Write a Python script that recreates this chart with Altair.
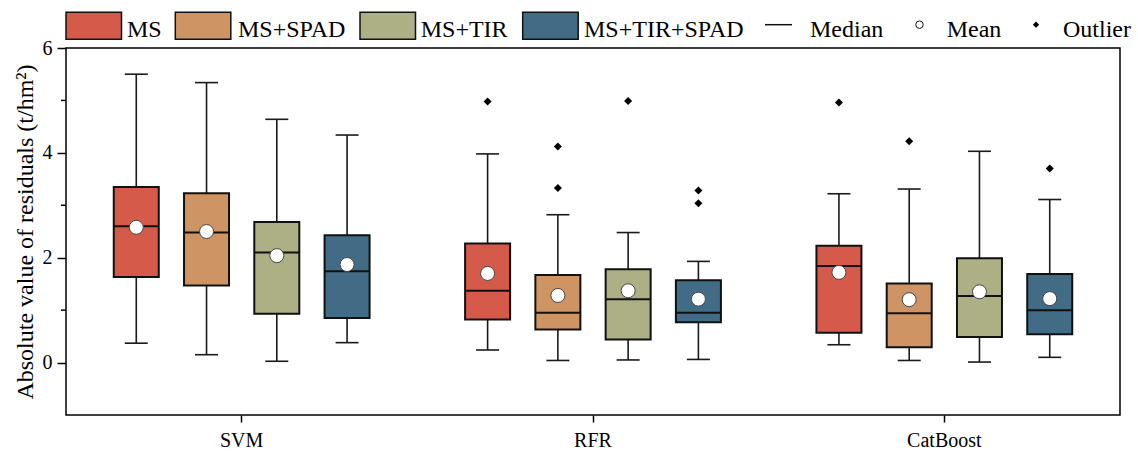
import altair as alt
import pandas as pd

# ---------------- data ----------------
groups = ["SVM", "RFR", "CatBoost"]
configs = ["MS", "MS+SPAD", "MS+TIR", "MS+TIR+SPAD"]
colors = ["#D65A4A", "#CE9464", "#ADAF84", "#426C85"]

whisker_low = {
    "SVM": [0.37, 0.15, 0.025, 0.38],
    "RFR": [0.24, 0.04, 0.05, 0.06],
    "CatBoost": [0.34, 0.04, 0.01, 0.10],
}
q1 = {
    "SVM": [1.63, 1.47, 0.93, 0.85],
    "RFR": [0.82, 0.63, 0.44, 0.77],
    "CatBoost": [0.57, 0.29, 0.49, 0.54],
}
median = {
    "SVM": [2.60, 2.48, 2.10, 1.74],
    "RFR": [1.37, 0.95, 1.21, 0.95],
    "CatBoost": [1.84, 0.94, 1.27, 1.00],
}
q3 = {
    "SVM": [3.35, 3.23, 2.68, 2.43],
    "RFR": [2.27, 1.67, 1.78, 1.57],
    "CatBoost": [2.23, 1.51, 1.99, 1.69],
}
whisker_high = {
    "SVM": [5.50, 5.34, 4.64, 4.34],
    "RFR": [3.98, 2.82, 2.48, 1.93],
    "CatBoost": [3.22, 3.31, 4.03, 3.11],
}
mean = {
    "SVM": [2.58, 2.50, 2.04, 1.87],
    "RFR": [1.70, 1.28, 1.37, 1.21],
    "CatBoost": [1.72, 1.20, 1.35, 1.22],
}
outliers = {
    "SVM": [[], [], [], []],
    "RFR": [[4.98], [4.12, 3.33], [4.99], [3.28, 3.04]],
    "CatBoost": [[4.96], [4.22], [], [3.70]],
}
minor_ticks = [1, 3, 5]

# ---------------- tables ----------------
rows = []
out_rows = []
for g in groups:
    for i, c in enumerate(configs):
        rows.append(dict(group=g, config=c, wl=whisker_low[g][i], q1=q1[g][i],
                         med=median[g][i], q3=q3[g][i], wh=whisker_high[g][i],
                         mean=mean[g][i]))
        for v in outliers[g][i]:
            out_rows.append(dict(group=g, config=c, v=v))
box_df = pd.DataFrame(rows)
out_df = pd.DataFrame(out_rows)
minor_df = pd.DataFrame({"v": minor_ticks})

FONT = "Liberation Serif"
W, H = 1054, 367

yscale = alt.Scale(domain=[-1, 6], nice=False, zero=False)
y_axis = alt.Axis(values=[0, 2, 4, 6], title="Absolute value of residuals (t/hm²)",
                  tickSize=9, labelPadding=5, labelFontSize=20, labelFont=FONT,
                  titleFont=FONT, titleFontSize=24, titleFontWeight="normal",
                  titleX=-34, titleY=H / 2, titleAngle=270, titleAlign="center",
                  titleBaseline="alphabetic", grid=False, domain=False,
                  tickColor="black", tickWidth=1.5, labelColor="black", titleColor="black")
x_axis = alt.Axis(title=None, labelAngle=0, tickSize=7, labelPadding=8, labelFontSize=20,
                  labelFont=FONT, grid=False, domain=False, tickColor="black",
                  tickWidth=1.5, labelColor="black")

X = alt.X("group:N", sort=groups, scale=alt.Scale(paddingInner=0, paddingOuter=0), axis=x_axis)
XO = alt.XOffset("config:N", sort=configs, scale=alt.Scale(paddingInner=0, paddingOuter=0.5))
COL = alt.Color("config:N", scale=alt.Scale(domain=configs, range=colors), legend=None)

def Y(field):
    return alt.Y(f"{field}:Q", scale=yscale, axis=y_axis)

base = alt.Chart(box_df)

whisk = base.mark_rule(color="#1a1a1a", strokeWidth=1.6).encode(
    x=X, xOffset=XO, y=Y("wl"), y2="wh")
cap_lo = base.mark_tick(size=23, thickness=1.6, color="#1a1a1a", opacity=1).encode(
    x=X, xOffset=XO, y=Y("wl"))
cap_hi = base.mark_tick(size=23, thickness=1.6, color="#1a1a1a", opacity=1).encode(
    x=X, xOffset=XO, y=Y("wh"))
box = base.mark_bar(size=45, stroke="#111", strokeWidth=2, opacity=1).encode(
    x=X, xOffset=XO, y=Y("q1"), y2="q3", color=COL)
med = base.mark_tick(size=45, thickness=2, color="#111", opacity=1).encode(
    x=X, xOffset=XO, y=Y("med"))
mn = base.mark_point(shape="circle", filled=True, fill="white", stroke="#444",
                     strokeWidth=1, size=196, opacity=1).encode(
    x=X, xOffset=XO, y=Y("mean"))
outl = alt.Chart(out_df).mark_point(shape="diamond", filled=True, color="black",
                                   size=64, opacity=1).encode(
    x=X, xOffset=XO, y=Y("v"))
minor = alt.Chart(minor_df).mark_rule(color="black", strokeWidth=1.5).encode(
    x=alt.value(-5), x2=alt.value(0), y=Y("v"))

# ---------------- legend (drawn above the plot) ----------------
one = pd.DataFrame({"a": [0]})
TEXT_Y = -11.5
MARK_Y = -23.3
legend_layers = []
sw_x = [0, 109.3, 294, 456.7]
tx_x = [61, 172, 354.7, 518]

def legend_text(label, x):
    return alt.Chart(one).mark_text(text=label, align="left", baseline="alphabetic",
                                    font=FONT, fontSize=24, color="black").encode(
        x=alt.value(x), y=alt.value(TEXT_Y))

for i, c in enumerate(configs):
    legend_layers.append(alt.Chart(one).mark_rect(fill=colors[i], stroke="#111", strokeWidth=1.5).encode(
        x=alt.value(sw_x[i]), x2=alt.value(sw_x[i] + 55.5), y=alt.value(-35.7), y2=alt.value(-8.7)))
    legend_layers.append(legend_text(c, tx_x[i]))
legend_layers.append(alt.Chart(one).mark_rule(color="#111", strokeWidth=1.5).encode(
    x=alt.value(699), x2=alt.value(726), y=alt.value(MARK_Y)))
legend_layers.append(legend_text("Median", 744))
legend_layers.append(alt.Chart(one).mark_point(shape="circle", filled=True, fill="white", stroke="#111",
                                              strokeWidth=1, size=56, opacity=1).encode(
    x=alt.value(853.5), y=alt.value(MARK_Y)))
legend_layers.append(legend_text("Mean", 880.7))
legend_layers.append(alt.Chart(one).mark_point(shape="diamond", filled=True, color="black",
                                              size=40, opacity=1).encode(
    x=alt.value(970), y=alt.value(MARK_Y)))
legend_layers.append(legend_text("Outlier", 997))

chart = alt.layer(whisk, cap_lo, cap_hi, box, med, mn, outl, minor, *legend_layers).properties(
    width=W, height=H,
    autosize=alt.AutoSizeParams(type="none"),
    padding={"left": 66, "top": 48, "right": 18, "bottom": 40},
).configure(
    background="white",
    font=FONT,
).configure_view(
    stroke="black", strokeWidth=1.5,
).configure_axis(
    labelFont=FONT, titleFont=FONT, labelColor="black", titleColor="black",
    tickColor="black", tickWidth=1.5,
)

chart.save("out.html", embed_options={"renderer": "svg", "actions": False})
